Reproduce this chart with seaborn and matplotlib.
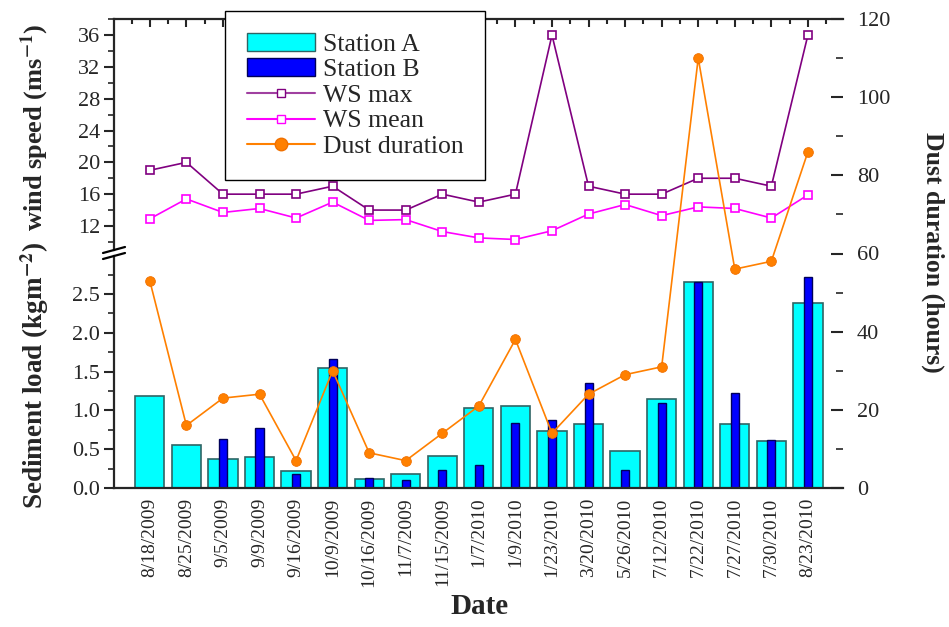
import numpy as np
import seaborn as sns
import matplotlib.pyplot as plt
from matplotlib.patches import Patch
from matplotlib.lines import Line2D
from matplotlib.ticker import MultipleLocator

# data
dates = ['8/18/2009', '8/25/2009', '9/5/2009', '9/9/2009', '9/16/2009', '10/9/2009',
         '10/16/2009', '11/7/2009', '11/15/2009', '1/7/2010', '1/9/2010', '1/23/2010',
         '3/20/2010', '5/26/2010', '7/12/2010', '7/22/2010', '7/27/2010', '7/30/2010',
         '8/23/2010']
station_a = [1.18, 0.56, 0.38, 0.40, 0.22, 1.55, 0.11, 0.18, 0.41, 1.03, 1.06, 0.74,
             0.83, 0.48, 1.15, 2.66, 0.83, 0.60, 2.38]
station_b = [np.nan, np.nan, 0.63, 0.77, 0.18, 1.66, 0.13, 0.10, 0.23, 0.30, 0.84, 0.87,
             1.35, 0.23, 1.10, 2.66, 1.23, 0.62, 2.72]
ws_max = [19, 20, 16, 16, 16, 17, 14, 14, 16, 15, 16, 36, 17, 16, 16, 18, 18, 17, 36]
ws_mean = [12.9, 15.4, 13.7, 14.2, 13.0, 15.0, 12.7, 12.8, 11.3, 10.5, 10.3, 11.4,
           13.5, 14.7, 13.3, 14.4, 14.2, 13.0, 15.9]
dust_hours = [53, 16, 23, 24, 7, 30, 9, 7, 14, 21, 38, 14, 24, 29, 31, 110, 56, 58, 86]

pos = np.arange(len(dates))

sns.set_style('white')
plt.rcParams['font.family'] = ['Liberation Serif', 'DejaVu Serif']
plt.rcParams['mathtext.fontset'] = 'stix'

W, H = 949, 627
fig = plt.figure(figsize=(W / 100, H / 100), dpi=100)

x0, x1 = 114, 843
y_top, y_brk1, y_brk2, y_bot = 19, 250, 256, 488
def rect(ya, yb):
    return [x0 / W, 1 - yb / H, (x1 - x0) / W, (yb - ya) / H]

ax_top = fig.add_axes(rect(y_top, y_brk1))
ax_bot = fig.add_axes(rect(y_brk2, y_bot))
ax_r = fig.add_axes(rect(y_top, y_bot), frameon=False)
ax_r.patch.set_alpha(0)

xlim = (-0.98, 18.96)
lw = 1.6

# bars
sns.barplot(x=dates, y=station_a, order=dates, color='#00FFFF', saturation=1,
            width=0.8, edgecolor='#2F6565', linewidth=1.2, ax=ax_bot)
sns.barplot(x=dates, y=station_b, order=dates, color='#0000FF', saturation=1,
            width=0.22, edgecolor='#00005A', linewidth=1.0, ax=ax_bot)
ax_bot.set_xlim(*xlim)
ax_bot.set_ylim(0, 2.99)
ax_bot.yaxis.set_major_locator(MultipleLocator(0.5))
ax_bot.yaxis.set_minor_locator(MultipleLocator(0.25))
ax_bot.yaxis.set_major_formatter(plt.FormatStrFormatter('%.1f'))
ax_bot.set_xlabel('')
ax_bot.set_ylabel('')
ax_bot.tick_params(axis='x', direction='in', length=6, width=1.5, pad=7,
                   labelsize=14, rotation=90)
ax_bot.tick_params(axis='y', which='major', direction='out', length=7, width=1.5,
                   pad=3, labelsize=16, left=True)
ax_bot.tick_params(axis='y', which='minor', direction='out', length=4.5, width=1.2,
                   left=True)
for lab in ax_bot.get_xticklabels():
    lab.set_va('top')
ax_bot.spines['top'].set_visible(False)
ax_bot.spines['right'].set_visible(False)
for s in ['left', 'bottom']:
    ax_bot.spines[s].set_linewidth(lw)

# wind speed
sns.lineplot(x=pos, y=ws_max, ax=ax_top, color='#800080', linewidth=1.2,
             marker='s', markersize=6, markerfacecolor='white',
             markeredgecolor='#800080', markeredgewidth=1.2)
sns.lineplot(x=pos, y=ws_mean, ax=ax_top, color='#FF00FF', linewidth=1.2,
             marker='s', markersize=6, markerfacecolor='white',
             markeredgecolor='#FF00FF', markeredgewidth=1.2)
ax_top.set_xlim(*xlim)
ax_top.set_ylim(8.98, 38.02)
ax_top.yaxis.set_major_locator(MultipleLocator(4))
ax_top.yaxis.set_minor_locator(MultipleLocator(2))
ax_top.set_yticks([12, 16, 20, 24, 28, 32, 36])
ax_top.xaxis.set_major_locator(MultipleLocator(1))
ax_top.xaxis.set_minor_locator(MultipleLocator(0.5))
ax_top.tick_params(axis='x', which='both', bottom=False, top=True, labelbottom=False,
                   direction='in', width=1.5)
ax_top.tick_params(axis='x', which='major', length=6)
ax_top.tick_params(axis='x', which='minor', length=3.5)
ax_top.tick_params(axis='y', which='major', direction='out', length=7, width=1.5,
                   pad=3, labelsize=16, left=True)
ax_top.tick_params(axis='y', which='minor', direction='out', length=4.5, width=1.2,
                   left=True)
ax_top.spines['bottom'].set_visible(False)
ax_top.spines['right'].set_visible(False)
for s in ['left', 'top']:
    ax_top.spines[s].set_linewidth(lw)

# dust duration on the right axis spanning both panels
sns.lineplot(x=pos, y=dust_hours, ax=ax_r, color='#FF8000', linewidth=1.2,
             marker='o', markersize=7, markeredgecolor='#F07000', markeredgewidth=0.6)
ax_r.set_xlim(*xlim)
ax_r.set_ylim(0, 120)
ax_r.set_xticks([])
ax_r.yaxis.tick_right()
ax_r.yaxis.set_major_locator(MultipleLocator(20))
ax_r.yaxis.set_minor_locator(MultipleLocator(10))
ax_r.tick_params(axis='y', which='major', direction='in', length=8.5, width=1.5,
                 pad=10, labelsize=16, right=True, left=False)
ax_r.tick_params(axis='y', which='minor', direction='in', length=5, width=1.2,
                 right=True, left=False)
ax_r.spines['right'].set_visible(True)
ax_r.spines['right'].set_linewidth(lw)
ax_r.spines['right'].set_color('black')

# axis break marks
for yb in (y_brk1, y_brk2):
    fig.add_artist(Line2D([(x0 - 11) / W, (x0 + 11) / W],
                          [1 - (yb + 3) / H, 1 - (yb - 3) / H],
                          transform=fig.transFigure, color='black', lw=1.6))

# axis titles
fig.text(35 / W, 1 - 127 / H, r'wind speed (ms$^{\mathbf{-1}}$)', rotation=90,
         ha='center', va='center', fontsize=19, fontweight='bold')
fig.text(35 / W, 1 - 375 / H, r'Sediment load (kgm$^{\mathbf{-2}}$)', rotation=90,
         ha='center', va='center', fontsize=19.5, fontweight='bold')
fig.text(933 / W, 1 - 252 / H, 'Dust duration (hours)', rotation=270,
         ha='center', va='center', fontsize=18.5, fontweight='bold')
fig.text(479 / W, 1 - 607 / H, 'Date', ha='center', va='center',
         fontsize=21, fontweight='bold')

handles = [
    Patch(facecolor='#00FFFF', edgecolor='#2F6565', label='Station A'),
    Patch(facecolor='#0000FF', edgecolor='#00005A', label='Station B'),
    Line2D([], [], color='#A040A0', lw=1.5, marker='s', markersize=6,
           markerfacecolor='white', markeredgecolor='#800080', label='WS max'),
    Line2D([], [], color='#FF00FF', lw=1.5, marker='s', markersize=6,
           markerfacecolor='white', markeredgecolor='#FF00FF', label='WS mean'),
    Line2D([], [], color='#FF8000', lw=1.5, marker='o', markersize=9,
           markeredgecolor='#F07000', label='Dust duration'),
]
leg = fig.legend(handles=handles, loc='upper left', bbox_to_anchor=(225 / W, 1 - 11 / H),
                 frameon=True, fancybox=False, edgecolor='black', framealpha=1,
                 fontsize=18.5, handlelength=2.65, handleheight=0.7, handletextpad=0.3,
                 labelspacing=0.1, borderpad=0.85, borderaxespad=0)
leg.get_frame().set_linewidth(1.0)

fig.savefig('out.png', dpi=100)
